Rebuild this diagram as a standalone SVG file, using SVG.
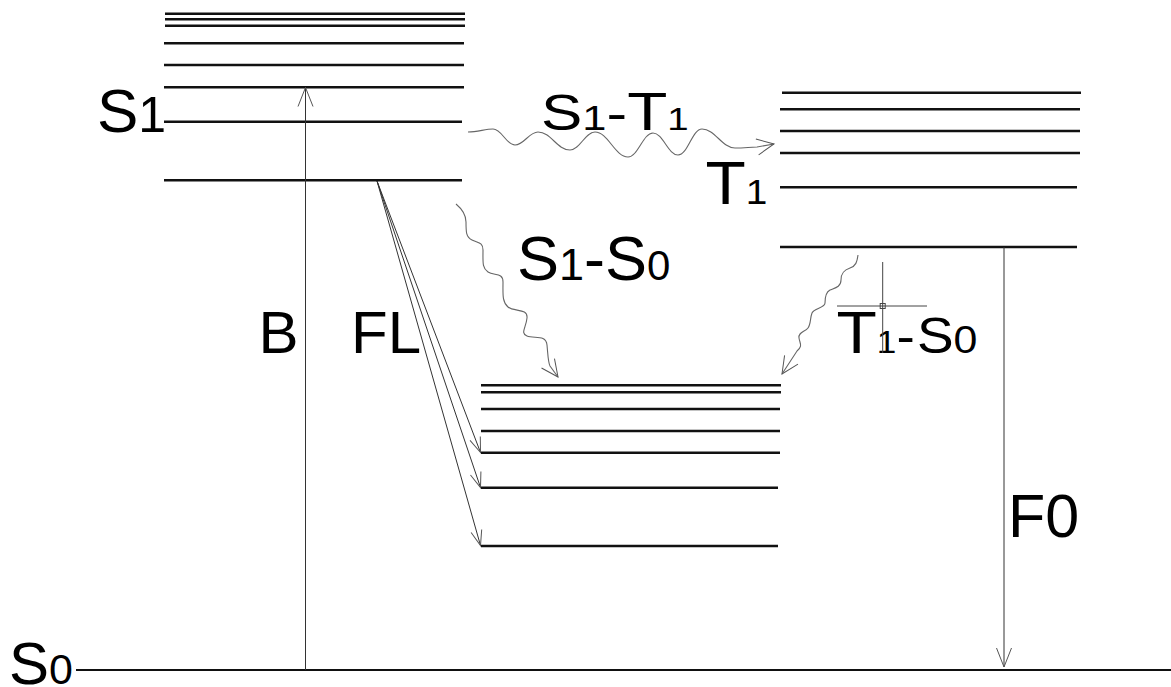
<svg xmlns="http://www.w3.org/2000/svg" width="1171" height="687" viewBox="0 0 1171 687">
  <defs>
    <style>
      .lvl { stroke: #111; stroke-width: 2.4; fill: none; }
      .base { stroke: #111; stroke-width: 2; fill: none; }
      .tr { stroke: #333; stroke-width: 1; fill: none; }
      .wave { stroke: #666; stroke-width: 1.1; fill: none; }
      .lbl { font-family: "Liberation Sans", Arial, sans-serif; fill: #000; }
      .cross { stroke: #444; stroke-width: 1; fill: none; }
    </style>
    <!-- open V heads -->
    <marker id="head" viewBox="-20 -10 22 20" refX="0" refY="0" markerWidth="22" markerHeight="20" markerUnits="userSpaceOnUse" orient="auto">
      <path d="M-19,-7.5 L0,0 L-19,7.5" fill="none" stroke="#555" stroke-width="1"/>
    </marker>
    <marker id="headSmall" viewBox="-18 -8 20 16" refX="0" refY="0" markerWidth="20" markerHeight="16" markerUnits="userSpaceOnUse" orient="auto">
      <path d="M-15,-5.5 L0,0 L-15,5.5" fill="none" stroke="#555" stroke-width="1"/>
    </marker>
    <marker id="headWave" viewBox="-20 -10 22 20" refX="0" refY="0" markerWidth="22" markerHeight="20" markerUnits="userSpaceOnUse" orient="auto">
      <path d="M-17,-8 L0,0 L-17,8" fill="none" stroke="#555" stroke-width="1"/>
    </marker>
  </defs>

  <rect width="1171" height="687" fill="#fff"/>

  <!-- singlet S1 manifold -->
  <g id="S1">
    <line class="lvl" x1="165" y1="13.7" x2="465" y2="13.7"/>
    <line class="lvl" x1="165" y1="19.3" x2="465" y2="19.3"/>
    <line class="lvl" x1="165" y1="25.7" x2="465" y2="25.7"/>
    <line class="lvl" x1="164" y1="43.3" x2="464" y2="43.3"/>
    <line class="lvl" x1="164" y1="65" x2="464" y2="65"/>
    <line class="lvl" x1="164" y1="87.3" x2="464" y2="87.3"/>
    <line class="lvl" x1="164" y1="121.7" x2="462" y2="121.7"/>
    <line class="lvl" x1="164" y1="180.3" x2="462" y2="180.3"/>
    <text class="lbl" x="97" y="132"><tspan font-size="62">S</tspan><tspan font-size="50">1</tspan></text>
  </g>

  <!-- triplet T1 manifold -->
  <g id="T1">
    <line class="lvl" x1="782" y1="92.7" x2="1081" y2="92.7"/>
    <line class="lvl" x1="780" y1="109.3" x2="1080" y2="109.3"/>
    <line class="lvl" x1="780" y1="131" x2="1080" y2="131"/>
    <line class="lvl" x1="780" y1="153" x2="1080" y2="153"/>
    <line class="lvl" x1="780" y1="187.3" x2="1077" y2="187.3"/>
    <line class="lvl" x1="780" y1="247" x2="1077" y2="247"/>
    <text class="lbl" transform="translate(705.5,204) scale(1.08,1)"><tspan font-size="61">T</tspan><tspan font-size="36">1</tspan></text>
  </g>

  <!-- vibrational levels of the ground state -->
  <g id="S0-vib">
    <line class="lvl" x1="481" y1="385.3" x2="781" y2="385.3"/>
    <line class="lvl" x1="481" y1="392.3" x2="781" y2="392.3"/>
    <line class="lvl" x1="481" y1="409" x2="780" y2="409"/>
    <line class="lvl" x1="481" y1="431" x2="780" y2="431"/>
    <line class="lvl" x1="481" y1="452.7" x2="780" y2="452.7"/>
    <line class="lvl" x1="481" y1="487.7" x2="778" y2="487.7"/>
    <line class="lvl" x1="481" y1="546" x2="778" y2="546"/>
  </g>

  <!-- ground state S0 -->
  <g id="S0">
    <line class="base" x1="76" y1="670" x2="1171" y2="670"/>
    <text class="lbl" x="9" y="684"><tspan font-size="60">S</tspan><tspan font-size="43">0</tspan></text>
  </g>

  <!-- transitions -->
  <g id="connectors">
    <!-- absorption B -->
    <line class="tr" x1="305.5" y1="670" x2="305.5" y2="87.5" marker-end="url(#head)"/>
    <!-- fluorescence FL -->
    <line class="tr" x1="377" y1="181" x2="480.5" y2="452.5" marker-end="url(#headSmall)"/>
    <line class="tr" x1="377" y1="181" x2="480.5" y2="487.5" marker-end="url(#headSmall)"/>
    <line class="tr" x1="377" y1="181" x2="480.5" y2="545.5" marker-end="url(#headSmall)"/>
    <!-- phosphorescence F0 -->
    <line class="tr" x1="1004" y1="247" x2="1004" y2="667" stroke="#555" marker-end="url(#head)"/>
    <!-- intersystem crossing S1-T1 -->
    <path class="wave" marker-end="url(#headWave)" d="M468,132 C478,132 485,129 493,129 C502,129 506,145 515,145 C524,145 529,132 538,132 C551,132 557,150 570,150 C580,150 585,132 595,132 C608,132 615,157 628,157 C638,157 643,133 653,133 C663,133 668,155 678,155 C688,155 692,129 702,129 C715,129 722,148 735,148 C745,148 750,147 757,147 L774,144"/>
    <!-- internal conversion S1-S0 -->
    <path class="wave" marker-end="url(#headWave)" d="M456,204 C462,209 466,214 466,222 C466,232 466,237 472,240 C478,243 483,242 483,250 C483,262 482,268 488,272 C494,276 503,272 503,282 C503,294 502,302 508,307 C514,312 528,308 527,318 C526,328 520,333 527,336 C534,339 546,334 547,345 C548,355 548,362 550,366 L558,377"/>
    <!-- T1-S0 crossing -->
    <path class="wave" marker-end="url(#headWave)" d="M858,255 C857,262 856,266 850,268 C844,270 841,273 841,280 C841,287 835,288 830,290 C826,292 825,298 825,303 C825,308 814,308 812,313 C810,318 811,324 808,328 C805,332 798,332 799,338 C800,344 803,346 797,351 L782,374"/>
  </g>

  <!-- transition labels -->
  <g id="connector-labels">
    <text class="lbl" x="258.6" y="353" font-size="60">B</text>
    <text class="lbl" x="351" y="353" font-size="60">FL</text>
    <text class="lbl" x="1008" y="537" font-size="61">F0</text>
    <text class="lbl" transform="translate(541,130) scale(1.24,1)"><tspan font-size="50">S</tspan><tspan font-size="35">1</tspan><tspan font-size="50">-</tspan><tspan font-size="53">T</tspan><tspan font-size="31">1</tspan></text>
    <text class="lbl" x="517" y="280"><tspan font-size="63">S</tspan><tspan font-size="45">1</tspan><tspan font-size="63">-</tspan><tspan font-size="63">S</tspan><tspan font-size="42">0</tspan></text>
    <text class="lbl" transform="translate(836.5,353) scale(1.1,1)"><tspan font-size="60">T</tspan><tspan font-size="32">1</tspan><tspan font-size="50">-</tspan><tspan font-size="50" dx="2">S</tspan><tspan font-size="39">0</tspan></text>
  </g>

  <!-- cursor crosshair -->
  <g id="crosshair">
    <line class="cross" x1="882.7" y1="262" x2="882.7" y2="353" stroke="#222"/>
    <line class="cross" x1="837" y1="306" x2="927" y2="306" stroke="#666"/>
    <rect class="cross" x="880.2" y="303.5" width="5" height="5"/>
  </g>
</svg>
